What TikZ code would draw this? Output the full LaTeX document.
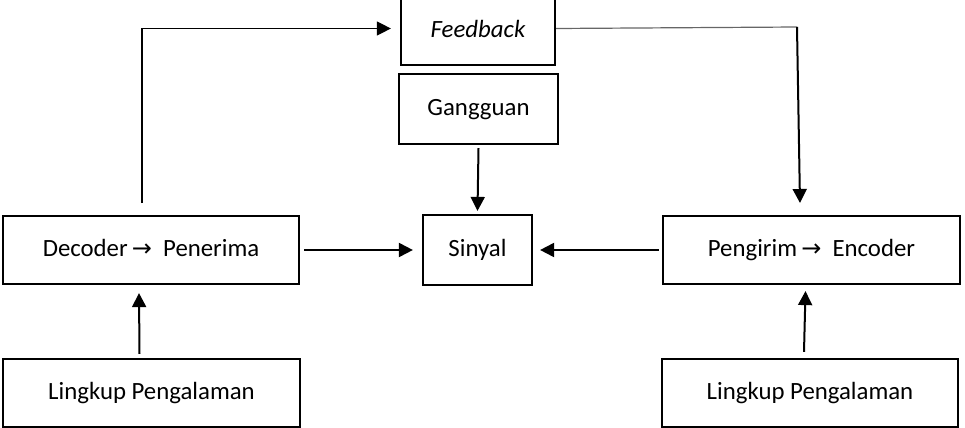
\documentclass[tikz,border=0pt]{standalone}
\usepackage{fontspec}
\setmainfont{Carlito}
\newfontfamily\arrowfont{DejaVu Sans}
\usetikzlibrary{arrows.meta}

\newcommand{\tto}{\,{\arrowfont\fontsize{12}{14}\selectfont →}\ \ }

\begin{document}
\begin{tikzpicture}[x=0.5pt,y=-0.5pt,
  box/.style={draw,line width=1.1pt,inner sep=0pt,text height=9pt,text depth=2.5pt,font=\fontsize{12.4}{15}\selectfont},
  arr/.style={line width=1pt,-{Triangle[length=7pt,width=7pt]}},
  thinarr/.style={line width=0.6pt,-{Triangle[length=7pt,width=7pt]}}]
\useasboundingbox (0,0) rectangle (965,428);
\node[box,minimum width=77pt,minimum height=33.5pt] (fb) at (478,31.5) {\itshape Feedback};
\node[box,minimum width=79.5pt,minimum height=35pt] (gang) at (478.5,109) {Gangguan};
\node[box,minimum width=54.5pt,minimum height=35pt] (sinyal) at (477.5,250) {Sinyal};
\node[box,minimum width=148pt,minimum height=34pt] (dec) at (151,250) {Decoder\tto Penerima};
\node[box,minimum width=148.5pt,minimum height=34pt] (peng) at (811.5,250) {Pengirim\tto Encoder};
\node[box,minimum width=148.5pt,minimum height=34pt] (lingl) at (151.5,393) {Lingkup Pengalaman};
\node[box,minimum width=148pt,minimum height=34pt] (lingr) at (810,393) {Lingkup Pengalaman};

\draw[arr] ([yshift=-1.5pt]gang.south) -- ([yshift=1.5pt]sinyal.north);
\draw[arr] ([xshift=2pt]dec.east) -- ([xshift=-4.5pt]sinyal.west);
\draw[arr] ([xshift=-1.5pt]peng.west) -- ([xshift=3.5pt]sinyal.east);
\draw[arr] ([xshift=-6pt,yshift=2pt]lingl.north) -- ([xshift=-6pt,yshift=-4pt]dec.south);
\draw[arr] ([xshift=-3pt,yshift=3pt]lingr.north) -- ([xshift=-3pt,yshift=-3pt]peng.north |- peng.south);

\coordinate (fbl) at (142,203);
\coordinate (fbr) at (797,27);
\coordinate (fbin) at (800,203);
\draw[thinarr] (fbl) |- ([xshift=-4.5pt,yshift=1.5pt]fb.west);
\draw[line width=0.6pt,gray!80!black] ([yshift=1.5pt]fb.east) -- (fbr);
\draw[arr] (fbr) -- (fbin);
\end{tikzpicture}
\end{document}
